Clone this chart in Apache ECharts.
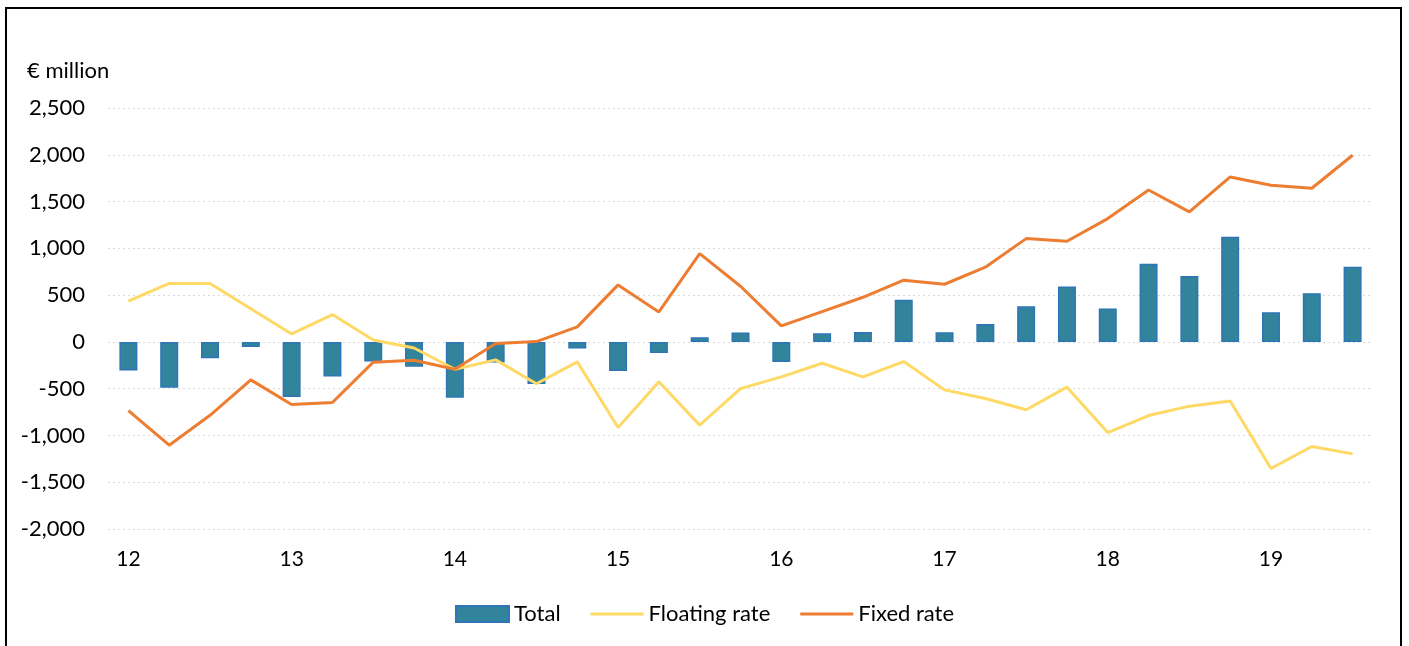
<!DOCTYPE html>
<html>
<head>
<meta charset="utf-8">
<script src="https://cdn.jsdelivr.net/npm/echarts@6/dist/echarts.min.js"></script>
<style>
  html, body { margin: 0; padding: 0; background: #ffffff; }
  #chart { width: 1409px; height: 646px; }
</style>
</head>
<body>
<div id="chart"></div>
<script>
// Quarterly periods, 2012 Q1 to 2019 Q3
const quarters = [
  '12 Q1', '12 Q2', '12 Q3', '12 Q4',
  '13 Q1', '13 Q2', '13 Q3', '13 Q4',
  '14 Q1', '14 Q2', '14 Q3', '14 Q4',
  '15 Q1', '15 Q2', '15 Q3', '15 Q4',
  '16 Q1', '16 Q2', '16 Q3', '16 Q4',
  '17 Q1', '17 Q2', '17 Q3', '17 Q4',
  '18 Q1', '18 Q2', '18 Q3', '18 Q4',
  '19 Q1', '19 Q2', '19 Q3'
];

// € million
const total = [
  -305, -490, -175, -55,
  -590, -370, -210, -265,
  -598, -220, -450, -70,
  -310, -120, 50, 100,
  -215, 92, 105, 450,
  102, 190, 380, 592,
  358, 835, 705, 1125,
  318, 520, 802
];

const floatingRate = [
  435, 625, 625, 355,
  85, 292, 20, -65,
  -292, -192, -448, -214,
  -915, -427, -890, -499,
  -374, -228, -374, -210,
  -513, -605, -726, -484,
  -969, -787, -687, -632,
  -1353, -1118, -1197
];

const fixedRate = [
  -734, -1104, -785, -406,
  -670, -648, -217, -196,
  -292, -18, 3, 160,
  609, 320, 943, 595,
  171, 324, 477, 659,
  616, 798, 1104, 1076,
  1318, 1624, 1389, 1763,
  1674, 1642, 1995
];

const yTicks = { min: -2000, max: 2500, step: 500 };

const font = 'Lato, "Open Sans", sans-serif';
const chart = echarts.init(document.getElementById('chart'), null, { renderer: 'canvas' });

chart.setOption({
  animation: false,
  backgroundColor: '#ffffff',
  textStyle: { fontFamily: font, color: '#000000' },
  graphic: [
    {
      type: 'rect',
      shape: { x: 6, y: 8, width: 1395, height: 700 },
      style: { fill: 'none', stroke: '#000000', lineWidth: 2 },
      silent: true
    },
    {
      type: 'text',
      left: 27,
      top: 60,
      style: { text: '€ million', font: '22px ' + font, fill: '#000000' }
    }
  ],
  grid: { left: 108, right: 36, top: 108, bottom: 117, containLabel: false },
  legend: {
    bottom: 16,
    left: 'center',
    itemWidth: 53,
    itemHeight: 16,
    itemGap: 30,
    textStyle: { fontFamily: font, fontSize: 22, color: '#000000' },
    data: [
      { name: 'Total', icon: 'rect' },
      { name: 'Floating rate', icon: 'path://M0,0 L53,0 L53,3 L0,3 Z' },
      { name: 'Fixed rate', icon: 'path://M0,0 L53,0 L53,3 L0,3 Z' }
    ]
  },
  xAxis: {
    type: 'category',
    data: quarters,
    boundaryGap: true,
    axisLine: { show: false },
    axisTick: { show: false },
    axisLabel: {
      interval: (i) => i % 4 === 0,
      formatter: (v) => v.slice(0, 2),
      fontFamily: font,
      fontSize: 21,
      color: '#000000',
      margin: 20
    },
    splitLine: { show: false }
  },
  yAxis: {
    type: 'value',
    min: yTicks.min,
    max: yTicks.max,
    interval: yTicks.step,
    axisLine: { show: false },
    axisTick: { show: false },
    axisLabel: {
      fontFamily: font,
      fontSize: 22,
      color: '#000000',
      margin: 23,
      formatter: (v) => v.toLocaleString('en-US')
    },
    splitLine: {
      show: true,
      lineStyle: { color: '#D9D9D9', width: 1, type: [2, 3] }
    }
  },
  series: [
    {
      name: 'Total',
      type: 'bar',
      data: total,
      barWidth: 18,
      itemStyle: { color: '#31849B', borderColor: '#2E75B6', borderWidth: 1.5 },
      z: 2
    },
    {
      name: 'Floating rate',
      type: 'line',
      data: floatingRate,
      symbol: 'none',
      lineStyle: { color: '#FFD966', width: 3 },
      itemStyle: { color: '#FFD966' },
      z: 3
    },
    {
      name: 'Fixed rate',
      type: 'line',
      data: fixedRate,
      symbol: 'none',
      lineStyle: { color: '#ED7D31', width: 3 },
      itemStyle: { color: '#ED7D31' },
      z: 4
    }
  ]
});
</script>
</body>
</html>
